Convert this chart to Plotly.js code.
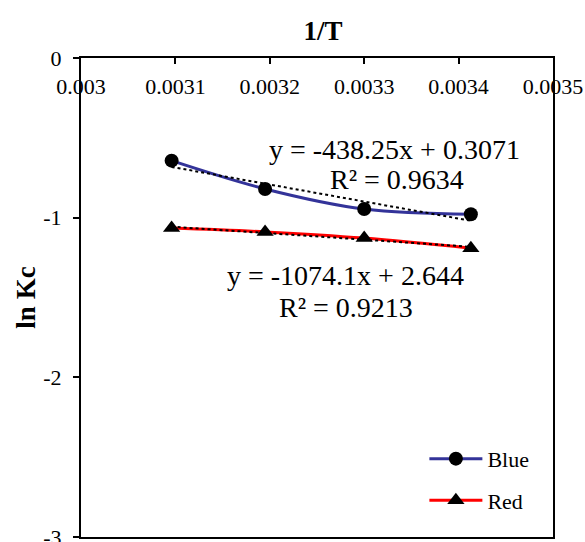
<!DOCTYPE html>
<html>
<head>
<meta charset="utf-8">
<script src="https://cdn.plot.ly/plotly-3.0.1.min.js"></script>
<style>html,body{margin:0;padding:0;background:#fff;}#chart{width:585px;height:542px;}</style>
</head>
<body>
<div id="chart"></div>
<script>
// Data
const invT = [0.003096, 0.003195, 0.0033, 0.003413];
const blueLnKc = [-0.643, -0.820, -0.946, -0.979];
const redLnKc = [-1.065, -1.089, -1.128, -1.191];
const xTickVals = [0.003, 0.0031, 0.0032, 0.0033, 0.0034, 0.0035];
const xTickText = ['0.003', '0.0031', '0.0032', '0.0033', '0.0034', '0.0035'];
const yTickVals = [0, -1, -2, -3];
const yTickText = ['0', '-1', '-2', '-3'];
const blueEq = 'y = -438.25x + 0.3071';
const blueR2 = 'R² = 0.9634';
const redEq = 'y = -1074.1x + 2.644';
const redR2 = 'R² = 0.9213';

function linFit(xs, ys) {
  const n = xs.length;
  const mx = xs.reduce((a, b) => a + b, 0) / n;
  const my = ys.reduce((a, b) => a + b, 0) / n;
  let sxy = 0, sxx = 0;
  for (let i = 0; i < n; i++) { sxy += (xs[i] - mx) * (ys[i] - my); sxx += (xs[i] - mx) ** 2; }
  const m = sxy / sxx, b = my - m * mx;
  const x0 = Math.min(...xs), x1 = Math.max(...xs);
  return { x: [x0, x1], y: [m * x0 + b, m * x1 + b] };
}
const blueFit = linFit(invT, blueLnKc);
const redFit = linFit(invT, redLnKc);

const serif = '"Liberation Serif", "Times New Roman", serif';

const traces = [
  { x: invT, y: blueLnKc, name: 'Blue', mode: 'lines+markers', type: 'scatter', legendgroup: 'b',
    line: { color: '#333399', width: 3, shape: 'spline', smoothing: 1 },
    marker: { symbol: 'circle', size: 14, color: '#000' } },
  { x: invT, y: redLnKc, name: 'Red', mode: 'lines+markers', type: 'scatter', legendgroup: 'r',
    line: { color: '#FF0000', width: 3, shape: 'spline', smoothing: 1 },
    marker: { symbol: 'triangle-up', size: 15, color: '#000' } },
  { x: blueFit.x, y: blueFit.y, mode: 'lines', type: 'scatter', showlegend: false, hoverinfo: 'skip',
    line: { color: '#000', width: 2, dash: 'dot' } },
  { x: redFit.x, y: redFit.y, mode: 'lines', type: 'scatter', showlegend: false, hoverinfo: 'skip',
    line: { color: '#000', width: 2, dash: 'dot' } }
];

const annFont = { family: serif, size: 28, color: '#000' };
const layout = {
  width: 585, height: 542,
  margin: { l: 81, r: 32, t: 58, b: 5 },
  paper_bgcolor: '#fff', plot_bgcolor: '#fff',
  font: { family: serif, color: '#000', size: 22 },
  title: { text: '<b>1/T</b>', font: { family: serif, size: 27, color: '#000' }, x: 0.552, xanchor: 'center', y: 0.943, yanchor: 'middle' },
  xaxis: {
    range: [0.003, 0.0035], side: 'top', tickvals: xTickVals, ticktext: xTickText,
    ticks: 'inside', ticklen: 6, tickwidth: 2, tickcolor: '#000',
    ticklabelposition: 'inside', ticklabeloverflow: 'allow', ticklabelstandoff: 16,
    showline: true, linecolor: '#000', linewidth: 2, mirror: true,
    showgrid: false, zeroline: false, tickfont: { family: serif, size: 22, color: '#000' }
  },
  yaxis: {
    range: [-3, 0], tickvals: yTickVals, ticktext: yTickText,
    ticks: 'outside', ticklen: 6, tickwidth: 2, tickcolor: '#000', ticklabelstandoff: 7,
    ticklabeloverflow: 'allow',
    showline: true, linecolor: '#000', linewidth: 2, mirror: true,
    showgrid: false, zeroline: false, tickfont: { family: serif, size: 22, color: '#000' },
    title: { text: '<b>ln Kc</b>', font: { family: serif, size: 27, color: '#000' }, standoff: 0 }
  },
  legend: {
    x: 0.7275, y: 0.207, xanchor: 'left', yanchor: 'top', bgcolor: 'rgba(0,0,0,0)',
    font: { family: serif, size: 22, color: '#000' }, itemwidth: 53, tracegroupgap: 10,
    traceorder: 'grouped'
  },
  showlegend: true,
  annotations: [
    { x: 0.0033326, y: -0.576, text: blueEq, showarrow: false, font: annFont, xanchor: 'center', yanchor: 'middle' },
    { x: 0.003335, y: -0.764, text: blueR2, showarrow: false, font: annFont, xanchor: 'center', yanchor: 'middle' },
    { x: 0.0032807, y: -1.36, text: redEq, showarrow: false, font: annFont, xanchor: 'center', yanchor: 'middle' },
    { x: 0.0032807, y: -1.561, text: redR2, showarrow: false, font: annFont, xanchor: 'center', yanchor: 'middle' }
  ]
};

Plotly.newPlot('chart', traces, layout, { displayModeBar: false, staticPlot: true });
</script>
</body>
</html>
